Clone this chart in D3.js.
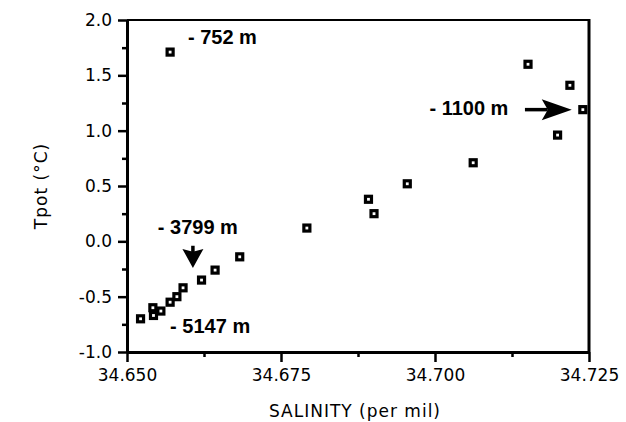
<!DOCTYPE html>
<html>
<head>
<meta charset="utf-8">
<script src="https://cdn.jsdelivr.net/npm/d3@7"></script>
<style>
  html, body { margin: 0; padding: 0; background: #fff; }
  svg { display: block; }
  .tick text { font-family: "DejaVu Sans", sans-serif; font-size: 17px; fill: #000; }
  .title { font-family: "DejaVu Sans", sans-serif; font-size: 17px; fill: #000; }
  .note { font-family: "Liberation Sans", Arial, sans-serif; font-weight: bold; font-size: 20px; fill: #000; }
</style>
</head>
<body>
<svg id="chart" width="626" height="422"></svg>
<script>
// Potential temperature vs salinity, one station profile
const salinity = [34.6570, 34.6522, 34.6542, 34.6543, 34.6555, 34.6570, 34.6581, 34.6591,
                  34.6621, 34.6643, 34.6683, 34.6792, 34.6892, 34.6901, 34.6955, 34.7062,
                  34.7151, 34.7219, 34.7240, 34.7199];
const tpot = [1.71, -0.70, -0.60, -0.67, -0.63, -0.55, -0.50, -0.42,
              -0.35, -0.26, -0.14, 0.12, 0.38, 0.25, 0.52, 0.71,
              1.60, 1.41, 1.19, 0.96];

const xMajor = [34.650, 34.675, 34.700, 34.725];
const xMinor = [34.6625, 34.6875, 34.7125];
const yMajor = [-1.0, -0.5, 0.0, 0.5, 1.0, 1.5, 2.0];
const yMinor = [-0.75, -0.25, 0.25, 0.75, 1.25, 1.75];

// depth annotations: text, start position in data units
const depthLabels = ["- 752 m", "- 3799 m", "- 5147 m", "- 1100 m"];
const depthLabelS = [34.6599, 34.6550, 34.6570, 34.6991];
const depthLabelT = [1.779, 0.062, -0.827, 1.146];

const svg = d3.select("#chart");
const x = d3.scaleLinear().domain([34.650, 34.725]).range([127, 589]);
const y = d3.scaleLinear().domain([-1, 2]).range([352, 20]);

// frame
svg.append("line").attr("x1", x(34.650)).attr("x2", x(34.725)).attr("y1", y(2)).attr("y2", y(2))
  .attr("stroke", "#000").attr("stroke-width", 2);
svg.append("line").attr("x1", x(34.725)).attr("x2", x(34.725)).attr("y1", y(2) - 1).attr("y2", y(-1))
  .attr("stroke", "#000").attr("stroke-width", 3);

// x axis
svg.append("g").attr("transform", `translate(0,${y(-1)})`)
  .call(d3.axisBottom(x).tickValues(xMajor).tickFormat(d3.format(".3f")).tickSize(10).tickSizeOuter(0).tickPadding(7));
svg.append("g").attr("transform", `translate(0,${y(-1)})`)
  .call(d3.axisBottom(x).tickValues(xMinor).tickFormat("").tickSize(5).tickSizeOuter(0))
  .select(".domain").remove();

// y axis
const yAx = svg.append("g").attr("transform", `translate(${x(34.650)},0)`)
  .call(d3.axisLeft(y).tickValues(yMajor).tickFormat(d3.format(".1f")).tickSize(9).tickSizeOuter(0).tickPadding(6));
svg.append("g").attr("transform", `translate(${x(34.650)},0)`)
  .call(d3.axisLeft(y).tickValues(yMinor).tickFormat("").tickSize(5).tickSizeOuter(0))
  .select(".domain").remove();

svg.selectAll(".domain").attr("stroke-width", 3);
svg.selectAll(".tick line").attr("stroke-width", 2.5);
yAx.selectAll(".tick text").text(d => d3.format(".1f")(d).replace("\u2212", "-"));

// axis titles
svg.append("text").attr("class", "title").attr("text-anchor", "middle")
  .attr("x", 355).attr("y", 417).attr("letter-spacing", 1).text("SALINITY (per mil)");
svg.append("text").attr("class", "title").attr("text-anchor", "middle")
  .attr("transform", "translate(47,186) rotate(-90)").attr("letter-spacing", 1).text("Tpot (\u00B0C)");

// points
const pts = salinity.map((s, i) => ({ s, t: tpot[i] }));
svg.append("g").selectAll("rect").data(pts).join("rect")
  .attr("x", d => x(d.s) - 3).attr("y", d => y(d.t) - 3)
  .attr("width", 6).attr("height", 6)
  .attr("fill", "#fff").attr("stroke", "#000").attr("stroke-width", 3.2);

// depth labels
svg.append("g").selectAll("text").data(depthLabels).join("text")
  .attr("class", "note")
  .attr("x", (d, i) => x(depthLabelS[i])).attr("y", (d, i) => y(depthLabelT[i]))
  .text(d => d);

// arrows
function arrow(x1, y1, x2, y2, headLen, headHalf, notch) {
  const a = Math.atan2(y2 - y1, x2 - x1);
  const ux = Math.cos(a), uy = Math.sin(a);
  const bx = x2 - ux * headLen, by = y2 - uy * headLen;
  const nx = -uy, ny = ux;
  svg.append("line").attr("x1", x1).attr("y1", y1).attr("x2", bx + ux * 6).attr("y2", by + uy * 6)
    .attr("stroke", "#000").attr("stroke-width", 3.5);
  const p = [
    [x2, y2],
    [bx + nx * headHalf, by + ny * headHalf],
    [bx + ux * headLen * notch, by + uy * headLen * notch],
    [bx - nx * headHalf, by - ny * headHalf]
  ];
  svg.append("path").attr("d", d3.line()(p) + "Z").attr("fill", "#000");
}
arrow(x(34.7146), y(1.19), x(34.7222), y(1.19), 30, 10.5, 0.2);
arrow(x(34.6607), y(-0.04), x(34.6607), y(-0.24), 19, 10.5, 0.15);
</script>
</body>
</html>
